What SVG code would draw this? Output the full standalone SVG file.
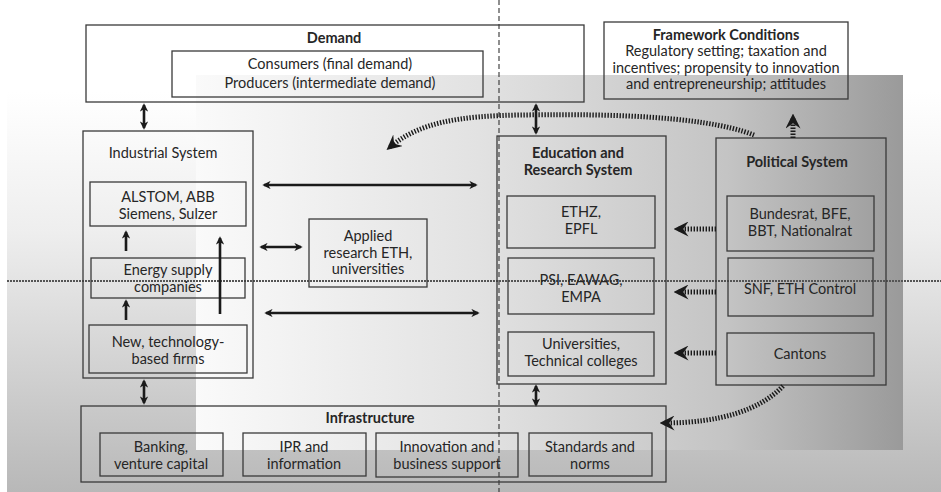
<svg xmlns="http://www.w3.org/2000/svg" width="941" height="492" viewBox="0 0 941 492">
<defs>
<linearGradient id="gOuter" x1="0" y1="0" x2="0" y2="1">
<stop offset="0" stop-color="#ffffff"/>
<stop offset="0.35" stop-color="#eeeeee"/>
<stop offset="1" stop-color="#b8b8b8"/>
</linearGradient>
<linearGradient id="gInner" x1="0" y1="0" x2="1" y2="0">
<stop offset="0" stop-color="#fafafa"/>
<stop offset="0.4" stop-color="#e2e2e2"/>
<stop offset="0.75" stop-color="#c4c4c4"/>
<stop offset="1" stop-color="#9a9a9a"/>
</linearGradient>
<marker id="ah" viewBox="0 0 10 10" refX="8" refY="5" markerWidth="3.2" markerHeight="3.2" orient="auto-start-reverse">
<path d="M0,0 L10,5 L0,10 L3,5 z" fill="#1a1a1a"/>
</marker>
<marker id="chev" viewBox="0 0 10 10" refX="7" refY="5" markerWidth="3" markerHeight="3" orient="auto" markerUnits="strokeWidth">
<path d="M0,0 L10,5 L0,10 L3.5,5 z" fill="#1a1a1a"/>
</marker>
<style>
.box{fill:none;stroke:#3a3a3a;stroke-width:1.3}
.t{font-family:Lato,"Noto Sans","Liberation Sans",sans-serif;font-size:14.5px;fill:#262626;text-anchor:middle}
.b{font-weight:bold}
.arr{stroke:#1a1a1a;stroke-width:2.6;fill:none;marker-start:url(#ah);marker-end:url(#ah)}
.up{stroke:#1a1a1a;stroke-width:2.6;fill:none;marker-end:url(#ah)}
.dot{stroke:#1a1a1a;stroke-width:5;stroke-dasharray:1.4 1.6;fill:none;marker-end:url(#chev)}
</style>
</defs>

<g id="background">
<rect x="7" y="92" width="934" height="400" fill="url(#gOuter)"/>
<rect x="196" y="75" width="707" height="375" fill="url(#gInner)"/>
<line x1="499" y1="0" x2="499" y2="492" stroke="#333" stroke-width="1.1" stroke-dasharray="5 3"/>
<line x1="7" y1="281" x2="941" y2="281" stroke="#555" stroke-width="1.8" stroke-dasharray="2 1"/>
</g>

<g id="demand">
<rect class="box" x="86" y="25" width="498" height="77"/>
<text class="t b" x="334" y="43">Demand</text>
<rect class="box" x="172" y="51" width="311" height="46"/>
<text class="t" x="330" y="69">Consumers (final demand)</text>
<text class="t" x="330" y="88">Producers (intermediate demand)</text>
</g>

<g id="framework">
<rect class="box" x="604" y="22" width="244" height="77"/>
<text class="t b" x="726" y="39.5">Framework Conditions</text>
<text class="t" x="726" y="56">Regulatory setting; taxation and</text>
<text class="t" x="726" y="72.5">incentives; propensity to innovation</text>
<text class="t" x="726" y="89">and entrepreneurship; attitudes</text>
</g>

<g id="industrial">
<rect class="box" x="83" y="131" width="170" height="247"/>
<text class="t" x="163" y="158">Industrial System</text>
</g>
<g id="alstom">
<rect class="box" x="90" y="182" width="156" height="44"/>
<text class="t" x="168" y="201.5">ALSTOM, ABB</text>
<text class="t" x="168" y="218.5">Siemens, Sulzer</text>
</g>
<g id="energy">
<rect class="box" x="91" y="258" width="154" height="40"/>
<text class="t" x="168" y="274.5">Energy supply</text>
<text class="t" x="168" y="291.5">companies</text>
</g>
<g id="newfirms">
<rect class="box" x="89" y="325" width="158" height="48"/>
<text class="t" x="168" y="346.5">New, technology-</text>
<text class="t" x="168" y="363.5">based firms</text>
</g>

<g id="applied">
<rect class="box" x="309" y="219" width="118" height="68"/>
<text class="t" x="368" y="241">Applied</text>
<text class="t" x="368" y="257.5">research ETH,</text>
<text class="t" x="368" y="274">universities</text>
</g>

<g id="education">
<rect class="box" x="497" y="136" width="169" height="248"/>
<text class="t b" x="578" y="158">Education and</text>
<text class="t b" x="578" y="175">Research System</text>
</g>
<g id="ethz">
<rect class="box" x="507" y="196" width="148" height="52"/>
<text class="t" x="581" y="217">ETHZ,</text>
<text class="t" x="581" y="234">EPFL</text>
</g>
<g id="psi">
<rect class="box" x="508" y="258" width="146" height="56"/>
<text class="t" x="581" y="285">PSI, EAWAG,</text>
<text class="t" x="581" y="302">EMPA</text>
</g>
<g id="universities">
<rect class="box" x="508" y="332" width="146" height="44"/>
<text class="t" x="581" y="349">Universities,</text>
<text class="t" x="581" y="366">Technical colleges</text>
</g>

<g id="political">
<rect class="box" x="716" y="138" width="170" height="247"/>
<text class="t b" x="797" y="167">Political System</text>
</g>
<g id="bundesrat">
<rect class="box" x="727" y="196" width="147" height="55"/>
<text class="t" x="800" y="219">Bundesrat, BFE,</text>
<text class="t" x="800" y="236">BBT, Nationalrat</text>
</g>
<g id="snf">
<rect class="box" x="728" y="258" width="145" height="58"/>
<text class="t" x="800" y="294">SNF, ETH Control</text>
</g>
<g id="cantons">
<rect class="box" x="727" y="333" width="147" height="43"/>
<text class="t" x="800" y="359">Cantons</text>
</g>

<g id="infrastructure">
<rect class="box" x="81" y="406" width="585" height="76"/>
<text class="t b" x="370" y="423">Infrastructure</text>
</g>
<g id="banking">
<rect class="box" x="100" y="433" width="123" height="43"/>
<text class="t" x="161" y="452">Banking,</text>
<text class="t" x="161" y="469">venture capital</text>
</g>
<g id="ipr">
<rect class="box" x="243" y="433" width="123" height="43"/>
<text class="t" x="304" y="452">IPR and</text>
<text class="t" x="304" y="469">information</text>
</g>
<g id="innovation">
<rect class="box" x="376" y="433" width="142" height="44"/>
<text class="t" x="447" y="452">Innovation and</text>
<text class="t" x="447" y="469">business support</text>
</g>
<g id="standards">
<rect class="box" x="529" y="433" width="123" height="43"/>
<text class="t" x="590" y="452">Standards and</text>
<text class="t" x="590" y="469">norms</text>
</g>

<g id="connectors">
<line class="arr" x1="144" y1="105" x2="144" y2="128"/>
<line class="arr" x1="144" y1="381" x2="144" y2="403"/>
<line class="arr" x1="536" y1="105" x2="536" y2="133"/>
<line class="arr" x1="536" y1="386" x2="536" y2="405"/>
<line class="arr" x1="264" y1="185" x2="476" y2="185"/>
<line class="arr" x1="261" y1="247" x2="301" y2="247"/>
<line class="arr" x1="266" y1="313" x2="478" y2="313"/>
<line class="up" x1="126" y1="251" x2="126" y2="232"/>
<line class="up" x1="126" y1="320" x2="126" y2="301"/>
<line class="up" x1="220" y1="314" x2="220" y2="238"/>
<path class="dot" d="M754,135 C700,114 590,114 520,115 C460,116 420,122 390,147"/>
<line class="dot" x1="793" y1="138" x2="793" y2="118"/>
<line class="dot" x1="716" y1="229" x2="678" y2="229"/>
<line class="dot" x1="716" y1="292" x2="678" y2="292"/>
<line class="dot" x1="716" y1="353" x2="678" y2="353"/>
<path class="dot" d="M783,386 C760,410 720,423 664,423"/>
</g>
</svg>
